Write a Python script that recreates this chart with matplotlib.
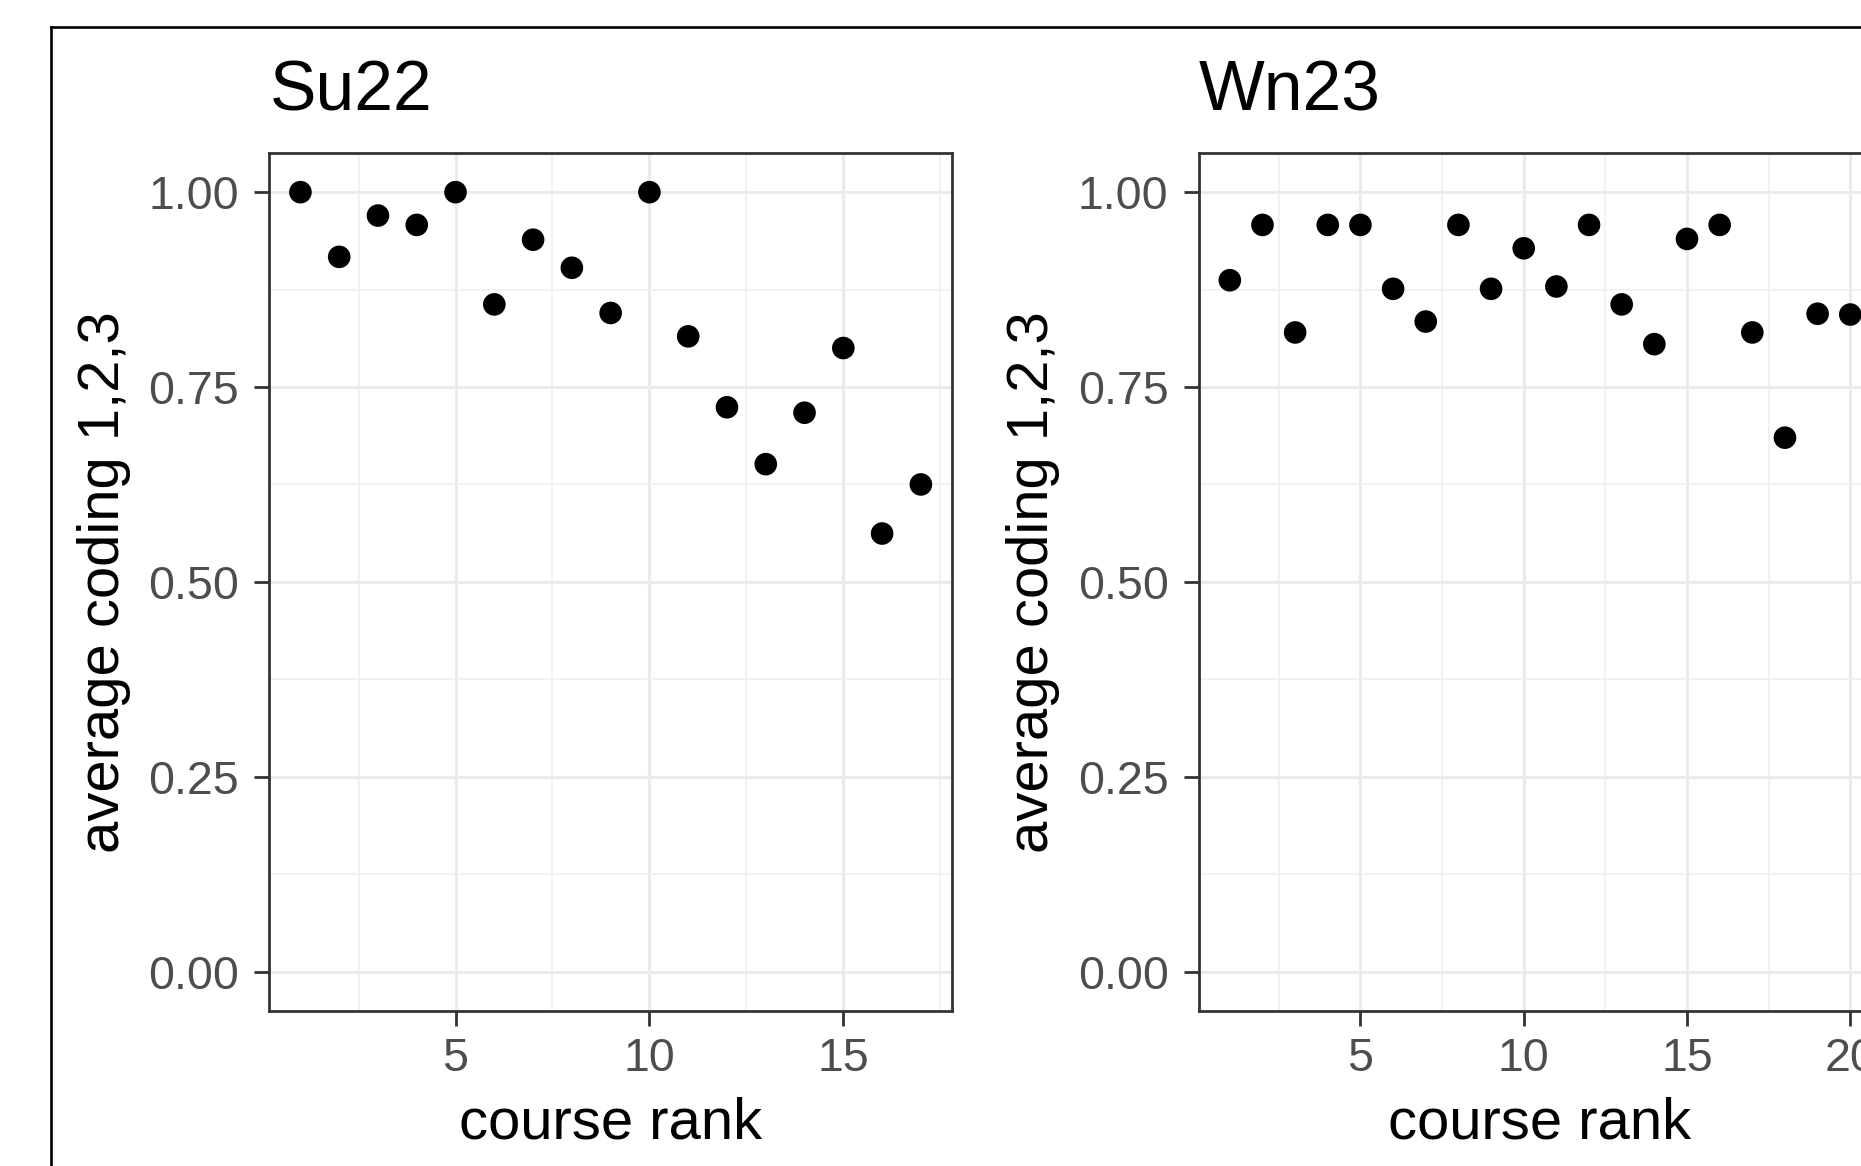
import matplotlib
matplotlib.use("Agg")
import matplotlib.pyplot as plt
from matplotlib.lines import Line2D
from matplotlib.ticker import MultipleLocator, FormatStrFormatter

# ---------------- data ----------------
su22_rank = list(range(1, 18))
su22_avg = [1.00, 0.917, 0.970, 0.958, 1.00, 0.856, 0.939, 0.903, 0.845,
            1.00, 0.815, 0.724, 0.651, 0.717, 0.800, 0.562, 0.625]

wn23_rank = list(range(1, 21))
wn23_avg = [0.887, 0.958, 0.820, 0.958, 0.958, 0.876, 0.834, 0.958, 0.876,
            0.928, 0.879, 0.958, 0.856, 0.805, 0.940, 0.958, 0.820, 0.685,
            0.844, 0.843]

panel_titles = ["Su22", "Wn23"]
x_label = "course rank"
y_label = "average coding 1,2,3"
y_ticks = [0.00, 0.25, 0.50, 0.75, 1.00]

# ---------------- figure ----------------
plt.rcParams["font.family"] = ["Liberation Sans", "DejaVu Sans"]
W, H = 1861, 1166
fig = plt.figure(figsize=(W / 100, H / 100), dpi=100)
fig.patch.set_facecolor("white")

# outer frame (cropped screenshot border)
fx, fy = 51 / W, 1 - 27 / H
fig.add_artist(Line2D([fx, 1.0], [fy, fy], color="black", lw=1.9))
fig.add_artist(Line2D([fx, fx], [0.0, fy], color="black", lw=1.9))

PW, PH = 682.5, 857.3
TOP = 153.2


def make_ax(left_px):
    return fig.add_axes([left_px / W, 1 - (TOP + PH) / H, PW / W, PH / H])


BASE = 41.8
series = [(su22_rank, su22_avg), (wn23_rank, wn23_avg)]
lefts = [269.4, 1198.8]

for (xs, ys), title, left in zip(series, panel_titles, lefts):
    ax = make_ax(left)
    ax.scatter(xs, ys, s=265, color="black", edgecolors="none", zorder=3)
    n0, n1 = min(xs), max(xs)
    ex = 0.05 * (n1 - n0)
    ax.set_xlim(n0 - ex, n1 + ex)
    ax.set_ylim(-0.05, 1.05)

    ax.xaxis.set_major_locator(MultipleLocator(5))
    ax.xaxis.set_minor_locator(MultipleLocator(2.5))
    ax.set_yticks(y_ticks)
    ax.yaxis.set_minor_locator(MultipleLocator(0.125))
    ax.yaxis.set_major_formatter(FormatStrFormatter("%.2f"))

    ax.grid(which="major", color="#EBEBEB", lw=2.2)
    ax.grid(which="minor", color="#F0F0F0", lw=1.2)
    ax.set_axisbelow(True)

    for sp in ax.spines.values():
        sp.set_color("#333333")
        sp.set_linewidth(2.0)

    ax.tick_params(which="major", length=10.8, width=2.0, color="#333333",
                   labelsize=BASE * 0.8, labelcolor="#4D4D4D")
    ax.tick_params(axis="x", which="major", pad=8)
    ax.tick_params(axis="y", which="major", pad=11)
    ax.tick_params(which="minor", length=0)

    ax.set_xlabel(x_label, fontsize=BASE, color="black")
    ax.set_ylabel(y_label, fontsize=BASE, color="black")
    ax.xaxis.set_label_coords(0.5, -0.100)
    ax.yaxis.set_label_coords(-0.203, 0.5)
    ax.set_title(title, loc="left", fontsize=BASE * 1.2, pad=31, color="black")

fig.savefig("out.png", dpi=100, facecolor="white")
